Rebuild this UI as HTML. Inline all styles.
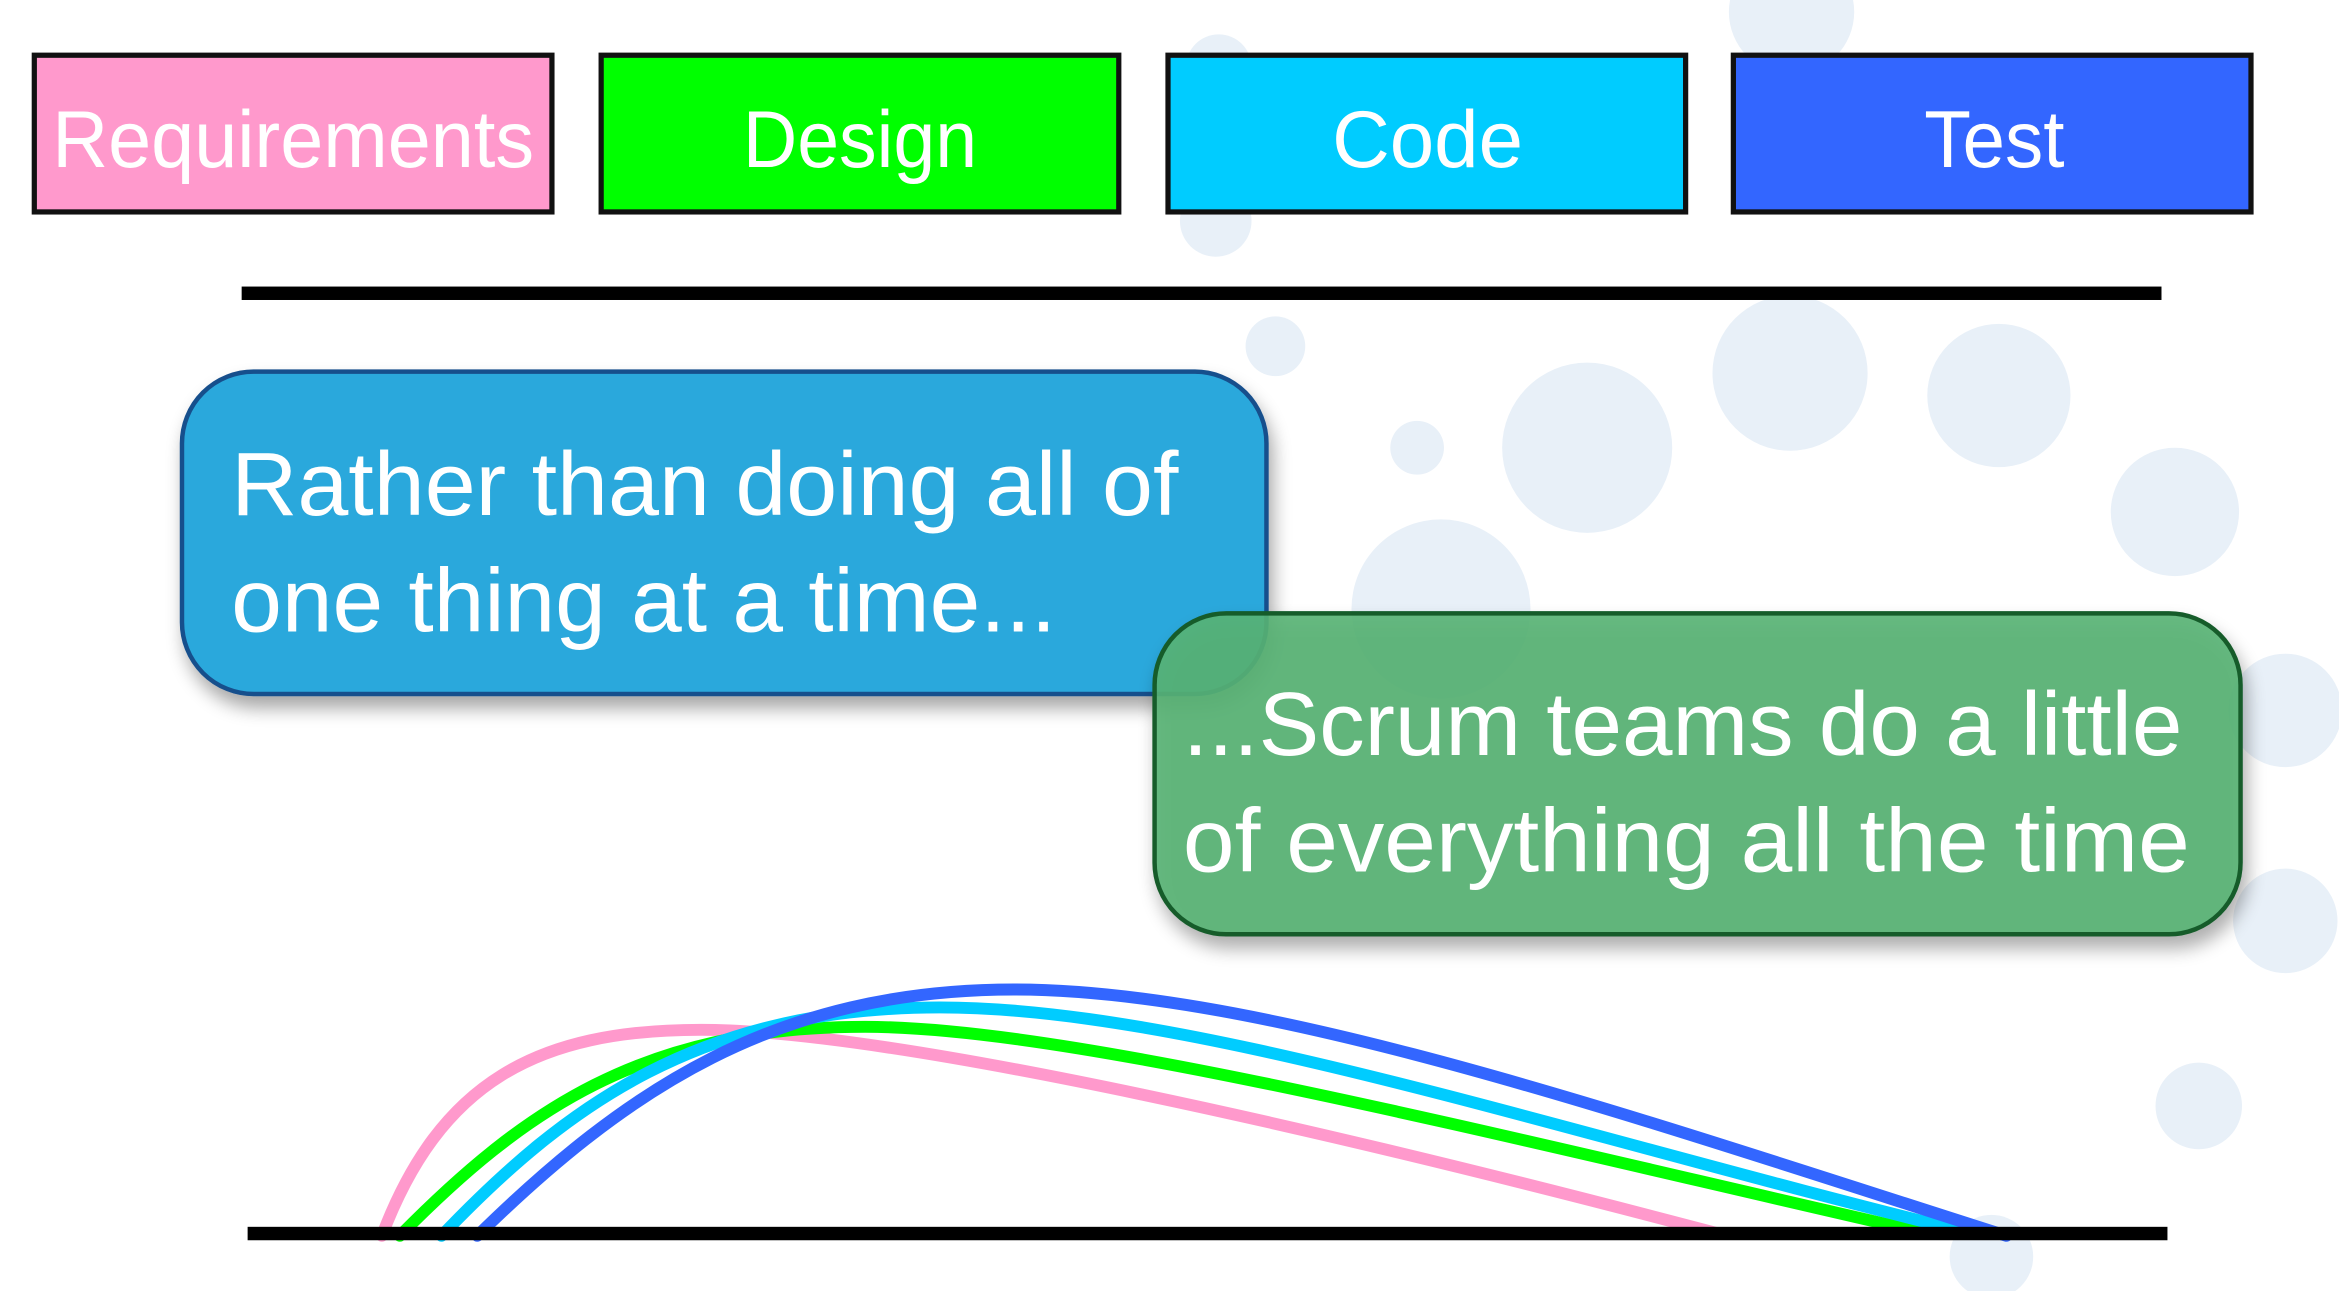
<!DOCTYPE html>
<html><head><meta charset="utf-8"><style>html,body{margin:0;padding:0;background:#fff;overflow:hidden}svg{display:block}</style></head>
<body>
<svg width="2339" height="1291" viewBox="0 0 1568 865" preserveAspectRatio="none" xmlns="http://www.w3.org/2000/svg" font-family="'Liberation Sans', sans-serif">
<defs>
<filter id="sh" x="-10%" y="-10%" width="130%" height="140%"><feGaussianBlur in="SourceAlpha" stdDeviation="6"/><feOffset dx="3" dy="8"/><feComponentTransfer><feFuncA type="linear" slope="0.35"/></feComponentTransfer><feMerge><feMergeNode/><feMergeNode in="SourceGraphic"/></feMerge></filter>
</defs>
<g fill="#e8f0f8">
<circle cx="1201" cy="8" r="42"/><circle cx="817" cy="45" r="22"/><circle cx="815" cy="148" r="24"/>
<circle cx="855" cy="232" r="20"/><circle cx="950" cy="300" r="18"/><circle cx="1064" cy="300" r="57"/>
<circle cx="1200" cy="250" r="52"/><circle cx="1340" cy="265" r="48"/><circle cx="1458" cy="343" r="43"/>
<circle cx="966" cy="408" r="60"/><circle cx="1532" cy="476" r="38"/><circle cx="1532" cy="617" r="35"/>
<circle cx="1474" cy="741" r="29"/><circle cx="1335" cy="842" r="28"/>
</g>
<g stroke="#111" stroke-width="3.5">
<rect x="23" y="37" width="347" height="105" fill="#ff99cc"/>
<rect x="403" y="37" width="347" height="105" fill="#00ff00"/>
<rect x="783" y="37" width="347" height="105" fill="#00ccff"/>
<rect x="1162" y="37" width="347" height="105" fill="#3366ff"/>
</g>
<g fill="#fff" font-size="54">
<text x="35" y="112" textLength="323" lengthAdjust="spacingAndGlyphs">Requirements</text>
<text x="498" y="112" textLength="157" lengthAdjust="spacingAndGlyphs">Design</text>
<text x="893" y="112" textLength="128" lengthAdjust="spacingAndGlyphs">Code</text>
<text x="1290" y="112" textLength="94" lengthAdjust="spacingAndGlyphs">Test</text>
</g>
<g fill="none" stroke-width="8" stroke-linecap="round">
<path d="M256,828 C295,725 360,690 470,690 C600,690 900,760 1150,826" stroke="#ff99cc"/>
<path d="M268,828 C350,745 430,688 580,688 C720,688 1000,760 1290,826" stroke="#00ff00"/>
<path d="M296,828 C380,740 470,675 630,675 C800,675 1050,760 1320,826" stroke="#00ccff"/>
<path d="M320,828 C420,730 520,663 680,663 C850,663 1100,750 1345,828" stroke="#3366ff"/>
</g>
<rect x="162" y="192" width="1287" height="9" fill="#000"/>
<rect x="166" y="822" width="1287" height="9" fill="#000"/>
<rect x="122" y="249" width="727" height="216" rx="48" fill="#29a8dc" stroke="#184f8c" stroke-width="3" filter="url(#sh)"/>
<g fill="#fff" font-size="60">
<text x="155" y="345" textLength="635" lengthAdjust="spacingAndGlyphs">Rather than doing all of</text>
<text x="155" y="423" textLength="553" lengthAdjust="spacingAndGlyphs">one thing at a time...</text>
</g>
<rect x="774" y="411" width="728" height="215" rx="48" fill="#57b374" fill-opacity="0.9" stroke="#165c2c" stroke-width="3" filter="url(#sh)"/>
<g fill="#fff" font-size="60">
<text x="793" y="506" textLength="670" lengthAdjust="spacingAndGlyphs">...Scrum teams do a little</text>
<text x="793" y="584" textLength="675" lengthAdjust="spacingAndGlyphs">of everything all the time</text>
</g>
</svg>
</body></html>
